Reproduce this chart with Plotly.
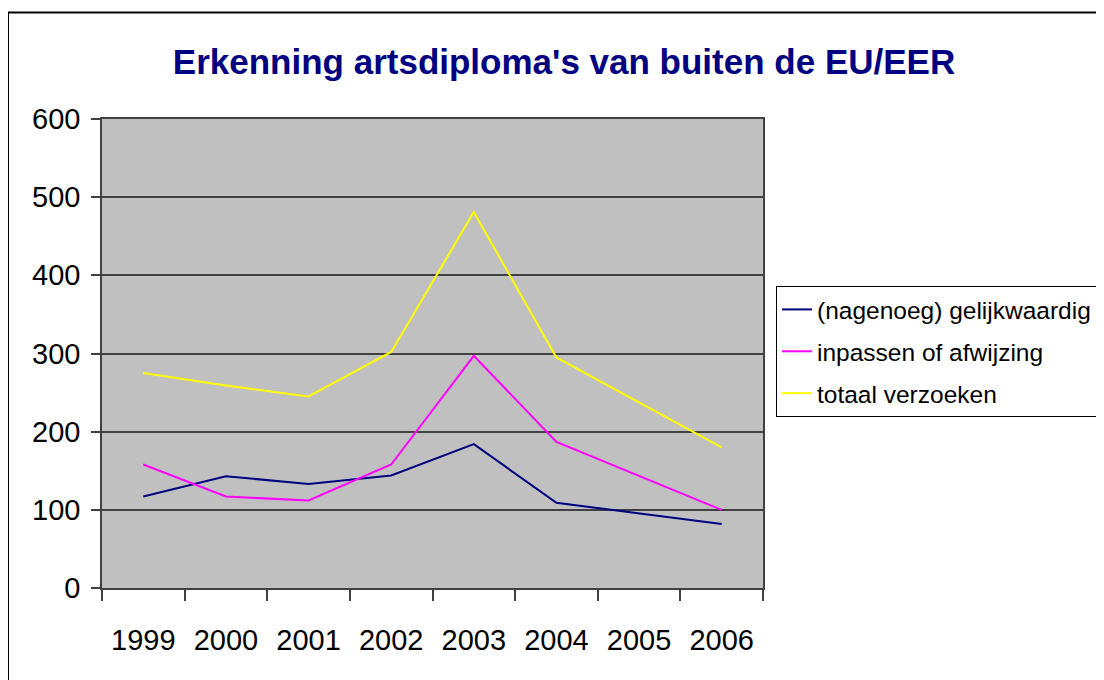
import plotly.graph_objects as go

years = ["1999", "2000", "2001", "2002", "2003", "2004", "2005", "2006"]
gelijkwaardig = [117, 143, 133, 144, 184, 109, None, 82]
inpassen = [158, 117, 112, 158, 297, 187, None, 100]
totaal = [275, 259, 245, 302, 481, 295, None, 180]

series_names = ["(nagenoeg) gelijkwaardig", "inpassen of afwijzing", "totaal verzoeken"]
series_values = [gelijkwaardig, inpassen, totaal]
series_colors = ["#000080", "#FF00FF", "#FFFF00"]

FONT = "Liberation Sans, Arial, sans-serif"

fig = go.Figure()
for i, (name, vals, col) in enumerate(zip(series_names, series_values, series_colors)):
    fig.add_trace(go.Scatter(
        x=years, y=vals, name=name, mode="lines",
        line=dict(color=col, width=2),
        connectgaps=True, legendgroup=f"g{i}",
    ))

# page body has an 8px margin; work in absolute window pixels and shift
OFF = 8
W, H = 1104, 680
L, R, T, B = 102 - OFF, 763 - OFF, 119 - OFF, 588 - OFF
pw, ph = R - L, B - T

def px_x(x):
    return (x - OFF - L) / pw

def px_y(y):
    return (B - (y - OFF)) / ph

fig.update_layout(
    width=W, height=H,
    margin=dict(l=L, r=W - R, t=T, b=H - B, pad=0),
    paper_bgcolor="white",
    plot_bgcolor="#C0C0C0",
    font=dict(family=FONT, color="black"),
    title=dict(
        text="Erkenning artsdiploma's van buiten de EU/EER",
        font=dict(family=FONT, size=35, color="#000080", weight="bold"),
        x=(564 - OFF) / W, xanchor="center", y=1 - (62 - OFF) / H, yanchor="middle",
    ),
    showlegend=True,
    legend=dict(
        x=px_x(776), xanchor="left", y=px_y(286), yanchor="top",
        bgcolor="white", bordercolor="black", borderwidth=1,
        font=dict(family=FONT, size=24.5, color="black"),
        traceorder="grouped", tracegroupgap=7,
    ),
    xaxis=dict(
        type="category", range=[-0.5, 7.5],
        tickson="boundaries", ticks="outside", ticklen=11, tickwidth=1.5,
        tickcolor="#404040",
        showline=True, linecolor="#404040", linewidth=1.5, mirror=True,
        showgrid=False, zeroline=False,
        tickfont=dict(family=FONT, size=29, color="black"),
        ticklabelstandoff=25,
    ),
    yaxis=dict(
        range=[0, 600], tickmode="linear", tick0=0, dtick=100,
        ticks="outside", ticklen=9, tickwidth=1.5, tickcolor="#404040",
        showline=True, linecolor="#404040", linewidth=1.5, mirror=True,
        showgrid=True, gridcolor="#404040", gridwidth=1.5,
        zeroline=False,
        tickfont=dict(family=FONT, size=29, color="black"),
        ticklabelstandoff=5,
    ),
    shapes=[
        dict(type="rect", xref="paper", yref="paper",
             x0=px_x(8), x1=px_x(1300), y0=px_y(800), y1=px_y(12.5),
             line=dict(color="black", width=2), fillcolor="rgba(0,0,0,0)",
             layer="below"),
    ],
)

fig.write_html("out.html")
